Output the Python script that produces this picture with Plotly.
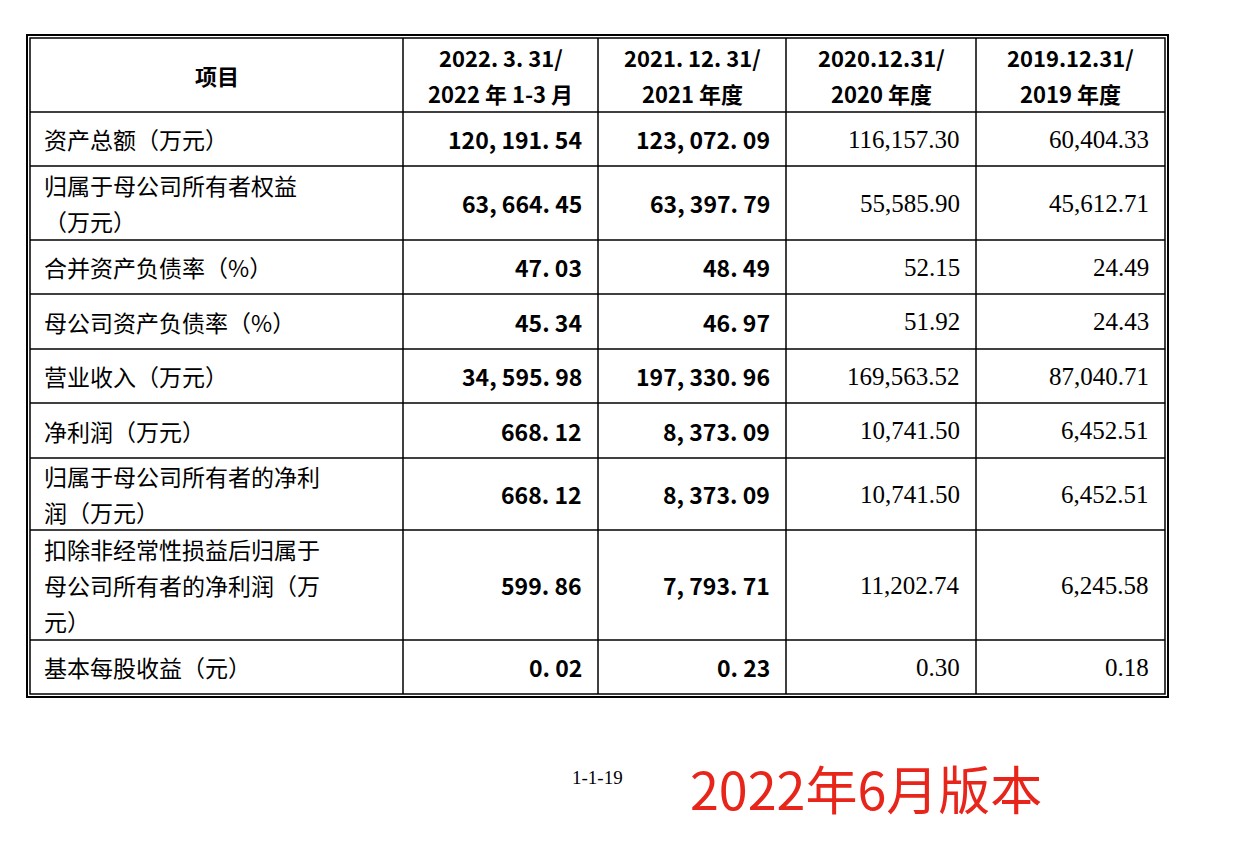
import plotly.graph_objects as go

# ---- data ----
headers = ["项目", "2022. 3. 31/<br>2022 年 1-3 月", "2021. 12. 31/<br>2021 年度",
           "2020.12.31/<br>2020 年度", "2019.12.31/<br>2019 年度"]
items = ["资产总额（万元）", "归属于母公司所有者权益<br>（万元）", "合并资产负债率（%）",
         "母公司资产负债率（%）", "营业收入（万元）", "净利润（万元）",
         "归属于母公司所有者的净利<br>润（万元）",
         "扣除非经常性损益后归属于<br>母公司所有者的净利润（万<br>元）",
         "基本每股收益（元）"]
v2022q1 = ["120, 191. 54", "63, 664. 45", "47. 03", "45. 34", "34, 595. 98",
           "668. 12", "668. 12", "599. 86", "0. 02"]
v2021 = ["123, 072. 09", "63, 397. 79", "48. 49", "46. 97", "197, 330. 96",
         "8, 373. 09", "8, 373. 09", "7, 793. 71", "0. 23"]
v2020 = ["116,157.30", "55,585.90", "52.15", "51.92", "169,563.52",
         "10,741.50", "10,741.50", "11,202.74", "0.30"]
v2019 = ["60,404.33", "45,612.71", "24.49", "24.43", "87,040.71",
         "6,452.51", "6,452.51", "6,245.58", "0.18"]
page_no = "1-1-19"
version = "2022年6月版本"

# ---- layout (pixel grid of the page) ----
col_x = [30, 403, 598, 786, 976, 1165]
row_y = [38, 112, 166, 240, 294, 349, 403, 458, 530, 640, 694]
LINE = 36
CJK = "Noto Sans CJK SC"
SERIF = "Liberation Serif"

fig = go.Figure()
ann = []
shapes = []
# outer double border
shapes.append(dict(type="rect", x0=27, x1=1168, y0=35, y1=697, line=dict(color="black", width=2)))
shapes.append(dict(type="rect", x0=col_x[0], x1=col_x[-1], y0=row_y[0], y1=row_y[-1],
                   line=dict(color="black", width=1.5)))
for x in col_x[1:-1]:
    shapes.append(dict(type="line", x0=x, x1=x, y0=row_y[0], y1=row_y[-1], line=dict(color="black", width=1.5)))
for y in row_y[1:-1]:
    shapes.append(dict(type="line", x0=col_x[0], x1=col_x[-1], y0=y, y1=y, line=dict(color="black", width=1.5)))


def add_lines(text, x, yc, xanchor, font):
    parts = text.split("<br>")
    y0 = yc - (len(parts) - 1) * LINE / 2
    for k, p in enumerate(parts):
        ann.append(dict(x=x, y=y0 + k * LINE, text=p, showarrow=False, xanchor=xanchor,
                        yanchor="middle", font=font))


ym = (row_y[0] + row_y[1]) / 2
for i, h in enumerate(headers):
    add_lines(f"<b>{h}</b>".replace("<br>", "</b><br><b>"), (col_x[i] + col_x[i + 1]) / 2, ym, "center",
              dict(family=CJK, size=22, color="black"))

cols = [v2022q1, v2021, v2020, v2019]
for r, label in enumerate(items):
    yc = (row_y[r + 1] + row_y[r + 2]) / 2
    add_lines(label, col_x[0] + 12, yc, "left", dict(family=CJK, size=23, color="black"))
    for c, vals in enumerate(cols):
        bold = c < 2
        ann.append(dict(x=col_x[c + 2] - 14, y=yc, text=f"<b>{vals[r]}</b>" if bold else vals[r],
                        showarrow=False, xanchor="right", yanchor="middle",
                        font=dict(family=CJK if bold else SERIF, size=23 if bold else 25, color="black")))

ann.append(dict(x=597, y=777, text=page_no, showarrow=False, font=dict(family=SERIF, size=19, color="black")))
ann.append(dict(x=866, y=787, text=version, showarrow=False, font=dict(family=CJK, size=52, color="#e8251a")))

# page is drawn with an 8px body offset, so shift the axis ranges to compensate
fig.update_layout(
    width=1236, height=856, margin=dict(l=0, r=0, t=0, b=0),
    plot_bgcolor="white", paper_bgcolor="white",
    xaxis=dict(range=[8, 1244], visible=False, fixedrange=True),
    yaxis=dict(range=[864, 8], visible=False, fixedrange=True),
    shapes=shapes, annotations=ann, showlegend=False,
)
fig.write_html("out.html")
